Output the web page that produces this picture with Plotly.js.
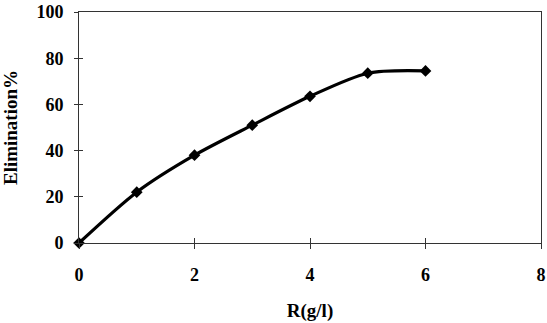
<!DOCTYPE html>
<html>
<head>
<meta charset="utf-8">
<script src="https://cdn.plot.ly/plotly-3.0.1.min.js"></script>
<style>html,body{margin:0;padding:0;background:#fff;}#chart{width:547px;height:323px;}</style>
</head>
<body>
<div id="chart"></div>
<script>
const ratio = [0, 1, 2, 3, 4, 5, 6];
const elimination = [0, 22, 38, 51, 63.5, 73.5, 74.5];
const xTicks = [0, 2, 4, 6, 8];
const yTicks = [0, 20, 40, 60, 80, 100];

const fontFam = '"Liberation Serif", "Times New Roman", serif';
const trace = {
  x: ratio, y: elimination, type: 'scatter', mode: 'lines+markers',
  line: {color: '#000', width: 3.2, shape: 'spline', smoothing: 0.8},
  marker: {symbol: 'diamond', size: 9, color: '#000'},
  showlegend: false, cliponaxis: false
};
const dummy = {x: [0], y: [0], xaxis: 'x2', yaxis: 'y2', mode: 'markers', marker: {opacity: 0}, showlegend: false, hoverinfo: 'skip'};
const layout = {
  width: 547, height: 323,
  margin: {l: 79, r: 6, t: 12, b: 80},
  paper_bgcolor: '#fff', plot_bgcolor: '#fff',
  font: {family: fontFam, color: '#000'},
  xaxis: {
    range: [0, 8], tickvals: xTicks, ticktext: xTicks.map(String),
    showgrid: false, zeroline: false, showline: true, linecolor: '#333', linewidth: 1,
    mirror: true, ticks: 'outside', ticklen: 5, tickcolor: '#333',
    ticklabelstandoff: 10,
    tickfont: {family: fontFam, size: 18, color: '#000', weight: 'bold'},
    title: {text: '<b>R(g/l)</b>', font: {family: fontFam, size: 19, color: '#000'}, standoff: 20}
  },
  yaxis: {
    range: [0, 100], tickvals: yTicks, ticktext: yTicks.map(String),
    showgrid: false, zeroline: false, showline: true, linecolor: '#333', linewidth: 1,
    mirror: true, ticks: 'outside', ticklen: 4, tickcolor: '#333',
    ticklabelstandoff: 7,
    tickfont: {family: fontFam, size: 18, color: '#000', weight: 'bold'},
    title: {text: '<b>Elimination%</b>', font: {family: fontFam, size: 19, color: '#000'}, standoff: 14}
  },
  xaxis2: {range: [0, 8], overlaying: 'x', tickvals: xTicks, showticklabels: false, ticks: 'inside', ticklen: 5, tickcolor: '#333', showgrid: false, zeroline: false, showline: false},
  yaxis2: {range: [0, 100], overlaying: 'y', tickvals: yTicks, showticklabels: false, ticks: 'inside', ticklen: 4, tickcolor: '#333', showgrid: false, zeroline: false, showline: false}
};
Plotly.newPlot('chart', [dummy, trace], layout, {displayModeBar: false, staticPlot: true});
</script>
</body>
</html>
